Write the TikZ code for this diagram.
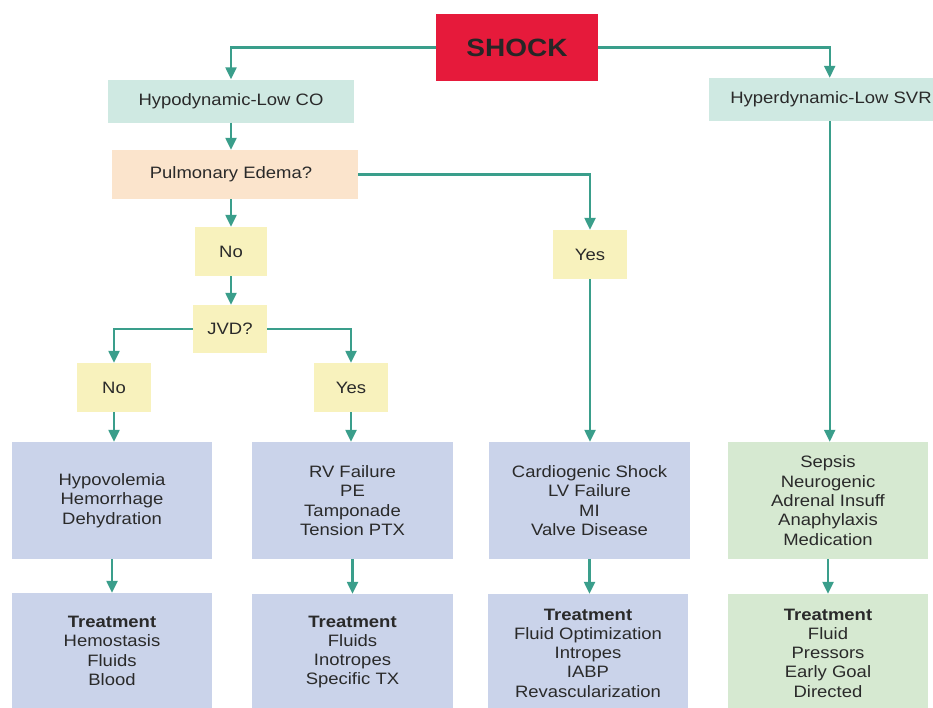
\documentclass[tikz,border=0pt]{standalone}
\usepackage{fontspec}
\setmainfont{Liberation Sans}[FakeStretch=1.12]
\usetikzlibrary{arrows.meta}
\definecolor{arrcol}{HTML}{3A9E8B}
\definecolor{shockred}{HTML}{E61A3B}
\definecolor{tealbg}{HTML}{CFE9E2}
\definecolor{peachbg}{HTML}{FBE4CC}
\definecolor{yellowbg}{HTML}{F8F2BD}
\definecolor{bluebg}{HTML}{CAD3EA}
\definecolor{greenbg}{HTML}{D6E9D1}
\definecolor{txt}{HTML}{2A2A2A}
\tikzset{
  box/.style={inner sep=0pt, align=center, text=txt, font=\fontsize{16.5}{19.3}\selectfont},
  arr/.style={draw=arrcol, line width=2.3pt, -{Triangle[length=12pt,width=11pt]}},
}
\begin{document}
\begin{tikzpicture}[x=1pt,y=-1pt]
\useasboundingbox (0,0) rectangle (933,707);
% top
\node[box, fill=shockred, minimum width=162, minimum height=67, font=\fontsize{25}{28}\selectfont\bfseries, text=black!85] (shock) at (517,47.5) {SHOCK};
\node[box, fill=tealbg, minimum width=246, minimum height=43] (hypo) at (231,101) {Hypodynamic-Low CO};
\node[box, fill=tealbg, minimum width=241, minimum height=43, anchor=west] (hyper) at (709,99.5) {};
\node[box] (hypert) at (831,99.5) {Hyperdynamic-Low SVR};
\node[box, fill=peachbg, minimum width=246, minimum height=49] (pulm) at (235,174.5) {\hspace*{-8pt}Pulmonary Edema?};
% decision boxes
\node[box, fill=yellowbg, minimum width=72, minimum height=49] (no1) at (231,251.5) {No};
\node[box, fill=yellowbg, minimum width=74, minimum height=49] (yes1) at (590,254.5) {Yes};
\node[box, fill=yellowbg, minimum width=74, minimum height=48] (jvd) at (230,329) {JVD?};
\node[box, fill=yellowbg, minimum width=74, minimum height=49] (no2) at (114,387.5) {No};
\node[box, fill=yellowbg, minimum width=74, minimum height=49] (yes2) at (351,387.5) {Yes};
% cause boxes
\node[box, fill=bluebg, minimum width=200, minimum height=117] (c1) at (112,500.5) {Hypovolemia\\Hemorrhage\\Dehydration};
\node[box, fill=bluebg, minimum width=201, minimum height=117] (c2) at (352.5,500.5) {RV Failure\\PE\\Tamponade\\Tension PTX};
\node[box, fill=bluebg, minimum width=201, minimum height=117] (c3) at (589.5,500.5) {Cardiogenic Shock\\LV Failure\\MI\\Valve Disease};
\node[box, fill=greenbg, minimum width=200, minimum height=117] (c4) at (828,500.5) {Sepsis\\Neurogenic\\Adrenal Insuff\\Anaphylaxis\\Medication};
% treatment boxes
\node[box, fill=bluebg, minimum width=200, minimum height=116] (t1) at (112,651) {\textbf{Treatment}\\Hemostasis\\Fluids\\Blood};
\node[box, fill=bluebg, minimum width=201, minimum height=116] (t2) at (352.5,652) {\textbf{Treatment}\\Fluids\\Inotropes\\Specific TX};
\node[box, fill=bluebg, minimum width=200, minimum height=118] (t3) at (588,653) {\textbf{Treatment}\\Fluid Optimization\\Intropes\\IABP\\Revascularization};
\node[box, fill=greenbg, minimum width=200, minimum height=118] (t4) at (828,653) {\textbf{Treatment}\\Fluid\\Pressors\\Early Goal\\Directed};
% connectors
\draw[arr] (shock.west) -| (hypo.north);
\draw[arr] (shock.east) -| (hyper.north);
\draw[arr] (hypo.south) -- (hypo.south |- pulm.north);
\draw[arr] (pulm.east) -| (yes1.north);
\draw[arr] (no1.north |- pulm.south) -- (no1.north);
\draw[arr] (no1.south) -- (no1.south |- jvd.north);
\draw[arr] (jvd.west) -| (no2.north);
\draw[arr] (jvd.east) -| (yes2.north);
\draw[arr] (no2.south) -- (no2.south |- c1.north);
\draw[arr] (yes2.south) -- (yes2.south |- c2.north);
\draw[arr] (yes1.south) -- (yes1.south |- c3.north);
\draw[arr] (hyper.south) -- (hyper.south |- c4.north);
\draw[arr] (c1.south) -- (c1.south |- t1.north);
\draw[arr] (c2.south) -- (c2.south |- t2.north);
\draw[arr] (c3.south) -- (c3.south |- t3.north);
\draw[arr] (c4.south) -- (c4.south |- t4.north);
\end{tikzpicture}
\end{document}
